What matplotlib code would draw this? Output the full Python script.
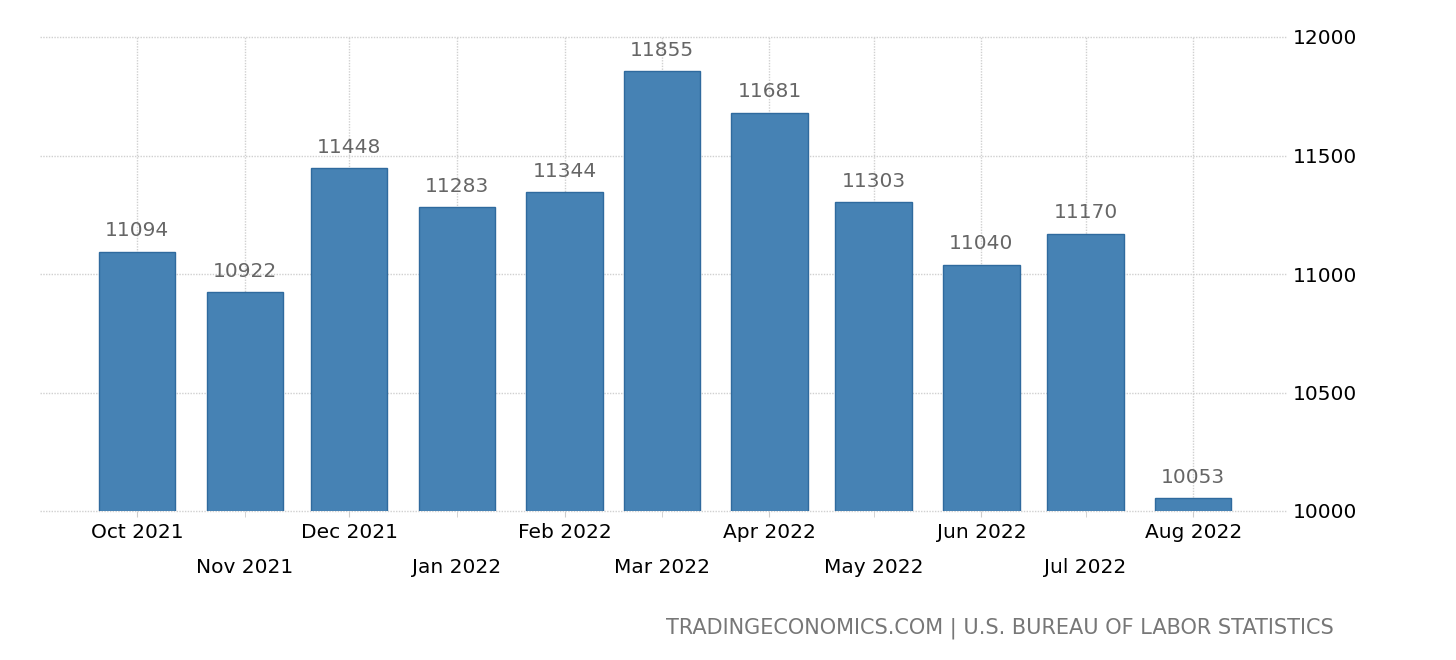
import matplotlib
matplotlib.use("Agg")
import matplotlib.pyplot as plt
import matplotlib.dates as mdates
import datetime as dt

months = ["2021-10", "2021-11", "2021-12", "2022-01", "2022-02", "2022-03",
          "2022-04", "2022-05", "2022-06", "2022-07", "2022-08"]
labels = ["Oct 2021", "Nov 2021", "Dec 2021", "Jan 2022", "Feb 2022", "Mar 2022",
          "Apr 2022", "May 2022", "Jun 2022", "Jul 2022", "Aug 2022"]
values = [11094, 10922, 11448, 11283, 11344, 11855, 11681, 11303, 11040, 11170, 10053]
yticks = [10000, 10500, 11000, 11500, 12000]

dates = [dt.datetime.strptime(m, "%Y-%m") for m in months]
x = mdates.date2num(dates)

plt.rcParams['font.family'] = ['DejaVu Sans']

fig = plt.figure(figsize=(14.56, 6.6), dpi=100)
ax = fig.add_axes([40 / 1456, 1 - 511 / 660, (1287 - 40) / 1456, (511 - 37) / 660])

ax.bar(x, values, width=22, color="#4682B4", edgecolor="#2f6a9e", linewidth=1, zorder=3)

for xi, v in zip(x, values):
    ax.annotate(str(v), (xi, v), xytext=(0, 11), textcoords="offset points",
                ha="center", va="baseline", fontsize=14.5, color="#666666", zorder=4)

ax.set_ylim(10000, 12000)
ax.set_xlim(mdates.date2num(dt.datetime(2021, 9, 3)), mdates.date2num(dt.datetime(2022, 8, 28)))

ax.yaxis.tick_right()
ax.set_yticks(yticks)
ax.set_yticklabels([str(t) for t in yticks])
ax.tick_params(axis="y", length=0, pad=4, labelsize=14.5, labelcolor="black")

ax.set_xticks(x[0::2], labels=labels[0::2])
ax.set_xticks(x[1::2], labels=labels[1::2], minor=True)
ax.tick_params(axis="x", which="both", length=4.5, color="#cccccc", labelsize=14.5,
               labelcolor="black")
ax.tick_params(axis="x", which="major", pad=4)
ax.tick_params(axis="x", which="minor", pad=29)

ax.grid(True, which="both", axis="x", color="#d0d0d0", linestyle=(0, (1, 1)), linewidth=1, zorder=0)
ax.grid(True, which="major", axis="y", color="#d0d0d0", linestyle=(0, (1, 1)), linewidth=1, zorder=0)
for gl in ax.get_ygridlines():
    gl.set_clip_on(False)

for s in ax.spines.values():
    s.set_visible(False)

fig.text(1334 / 1456, 1 - 628 / 660, "TRADINGECONOMICS.COM | U.S. BUREAU OF LABOR STATISTICS",
         ha="right", va="center", fontsize=15, color="#777777")

fig.savefig("out.png", dpi=100)
